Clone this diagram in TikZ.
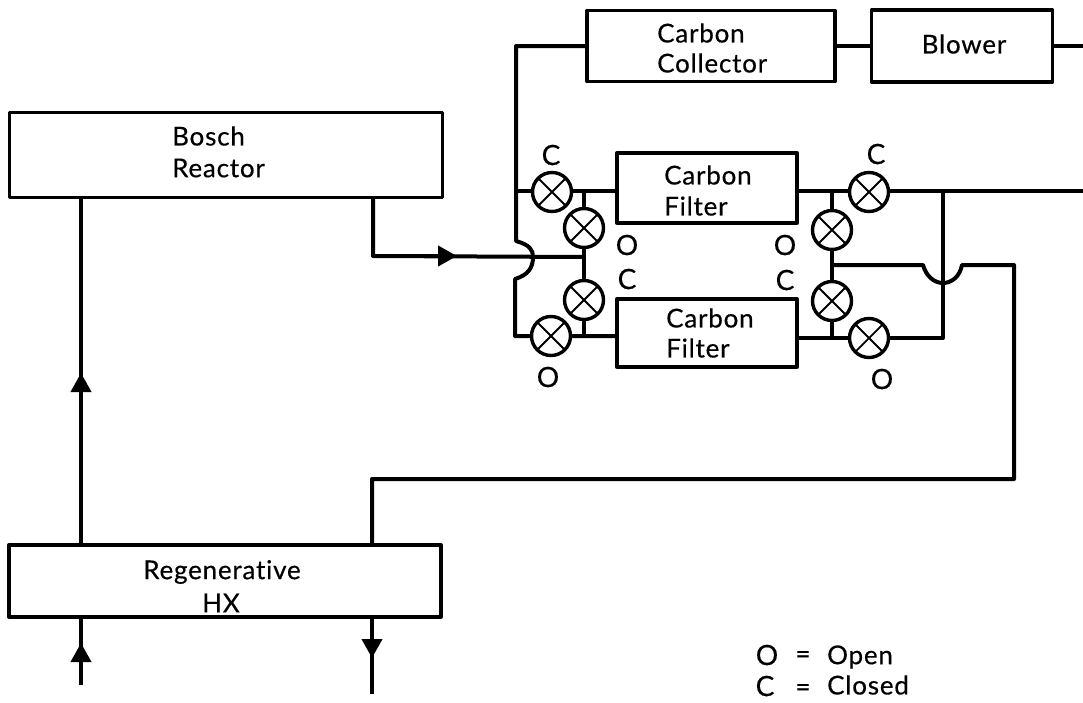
\documentclass[tikz,border=0pt]{standalone}
\usepackage{fontspec}
\setmainfont[LetterSpace=3,Ligatures=NoCommon,FakeBold=0.4]{Lato}
\usetikzlibrary{arrows.meta}
\begin{document}
\begin{tikzpicture}[x=1pt, y=-1pt, font=\fontsize{26}{28}\selectfont, >={Triangle[length=19pt,width=20pt]},
    pipe/.style={line width=4pt, line join=round},
    blockbox/.style={draw, line width=3.3pt, line join=round, inner sep=0pt},
    valve/.style={circle, draw, line width=3.4pt, fill=white, minimum size=39pt, inner sep=0pt,
      path picture={\draw[line width=1.8pt] (path picture bounding box.south west) -- (path picture bounding box.north east)
        (path picture bounding box.north west) -- (path picture bounding box.south east);}},
    lbl/.style={inner sep=0pt},
    statlbl/.style={inner sep=0pt, font=\fontsize{28}{28}\selectfont}]
  \useasboundingbox (0,0) rectangle (1083,702);
  % blocks
  \node[blockbox, minimum width=433pt, minimum height=85pt] (bosch) at (226,155) {};
  \node[blockbox, minimum width=432pt, minimum height=72pt] (regen) at (225,581) {};
  \node[blockbox, minimum width=248pt, minimum height=71pt] (collector) at (711,46) {};
  \node[blockbox, minimum width=181pt, minimum height=72pt] (blower) at (962,46) {};
  \node[blockbox, minimum width=180pt, minimum height=70pt] (filtera) at (707,188) {};
  \node[blockbox, minimum width=180pt, minimum height=68pt] (filterb) at (707,333) {};
  % block texts
  \node[lbl, anchor=west] (boscha) at (172,136) {Bosch};
  \node[lbl, anchor=west] (boschb) at (172,168) {Reactor};
  \node[lbl] (regena) at (222,572) {Regenerative};
  \node[lbl] (regenb) at (221,603) {HX};
  \node[lbl, anchor=west] (colla) at (657,33) {Carbon};
  \node[lbl, anchor=west] (collb) at (657,63) {Collector};
  \node[lbl] (blowtxt) at (964,44) {Blower};
  \node[lbl, anchor=west] (filta) at (664,175) {Carbon};
  \node[lbl, anchor=west] (filtb) at (664,206) {Filter};
  \node[lbl, anchor=west] (filtc) at (666,318) {Carbon};
  \node[lbl, anchor=west] (filtd) at (666,348) {Filter};
  % junctions
  \coordinate (topcorner) at (516,46);
  \coordinate (bumpa) at (516,241);
  \coordinate (bumpb) at (515,279);
  \coordinate (botcorner) at (515,336);
  \coordinate (hxup) at (81,545);
  \coordinate (hxupend) at (81,685);
  \coordinate (hxdown) at (372,545);
  \coordinate (hxdownend) at (372,694);
  \coordinate (outa) at (373,256);
  \coordinate (inleft) at (584,257);
  \coordinate (inright) at (832,265);
  \coordinate (archl) at (923,265);
  \coordinate (archr) at (962,265);
  \coordinate (retcorner) at (1014,265);
  \coordinate (retlow) at (1014,479);
  \coordinate (exita) at (1083,191);
  \coordinate (exitb) at (1083,46);
  \coordinate (tee) at (943,191);
  \coordinate (teelow) at (943,338);
  % pipes under the valves
  \draw[pipe] (bosch.south -| hxup) -- (hxup);
  \draw[pipe, ->] (hxup) -- (81,373);
  \draw[pipe, ->] (hxupend) -- (81,643);
  \draw[pipe] (hxupend) -- (regen.south -| hxup);
  \draw[pipe] (regen.south -| hxdown) -- (hxdownend);
  \draw[pipe, ->] (regen.south -| hxdown) -- (372,658);
  \draw[pipe] (bosch.south -| outa) -- (outa) -- (inleft);
  \draw[pipe, ->] (outa) -- (457,256);
  \draw[pipe] (collector.west) -- (topcorner) -- (bumpa) .. controls (530,245) and (533,250) .. (533,257) .. controls (533,268) and (528,275) .. (bumpb) -- (botcorner) -- (filterb.west |- botcorner);
  \draw[pipe] (topcorner |- exita) -- (filtera.west |- exita);
  \draw[pipe] (collector.east) -- (blower.west);
  \draw[pipe] (blower.east |- exitb) -- (exitb);
  \draw[pipe] (filtera.east |- exita) -- (exita);
  \draw[pipe] (filterb.east |- teelow) -- (teelow) -- (tee);
  \draw[pipe] (regen.north -| hxdown) -- (hxdown |- retlow) -- (retlow) -- (retcorner) -- (archr) .. controls (960,276) and (952,283) .. (943,283) .. controls (934,283) and (926,276) .. (archl) -- (inright);
  \draw[pipe] (584,191) -- (584,336);
  \draw[pipe] (832,191) -- (832,338);
  % valves
  \node[valve] (vala) at (552,192) {};
  \node[valve] (valb) at (584,228) {};
  \node[valve] (valc) at (584,300) {};
  \node[valve] (vald) at (551,336) {};
  \node[valve] (vale) at (869,192) {};
  \node[valve] (valf) at (832,230) {};
  \node[valve] (valg) at (832,301) {};
  \node[valve] (valh) at (869,338) {};
  % valve states
  \node[statlbl] (stata) at (551,155) {C};
  \node[statlbl] (statb) at (627,245) {O};
  \node[statlbl] (statc) at (627,279) {C};
  \node[statlbl] (statd) at (548,377) {O};
  \node[statlbl] (state) at (876,154) {C};
  \node[statlbl] (statf) at (785,245) {O};
  \node[statlbl] (statg) at (785,280) {C};
  \node[statlbl] (stath) at (882,379) {O};
  % legend
  \node[statlbl] (keya) at (767,655) {O};
  \node[statlbl] (keyb) at (765,686) {C};
  \node[lbl] (keyc) at (803,657) {=};
  \node[lbl] (keyd) at (803,690) {=};
  \node[lbl, anchor=west] (keye) at (827,657) {Open};
  \node[lbl, anchor=west] (keyf) at (827,685) {Closed};
\end{tikzpicture}
\end{document}
